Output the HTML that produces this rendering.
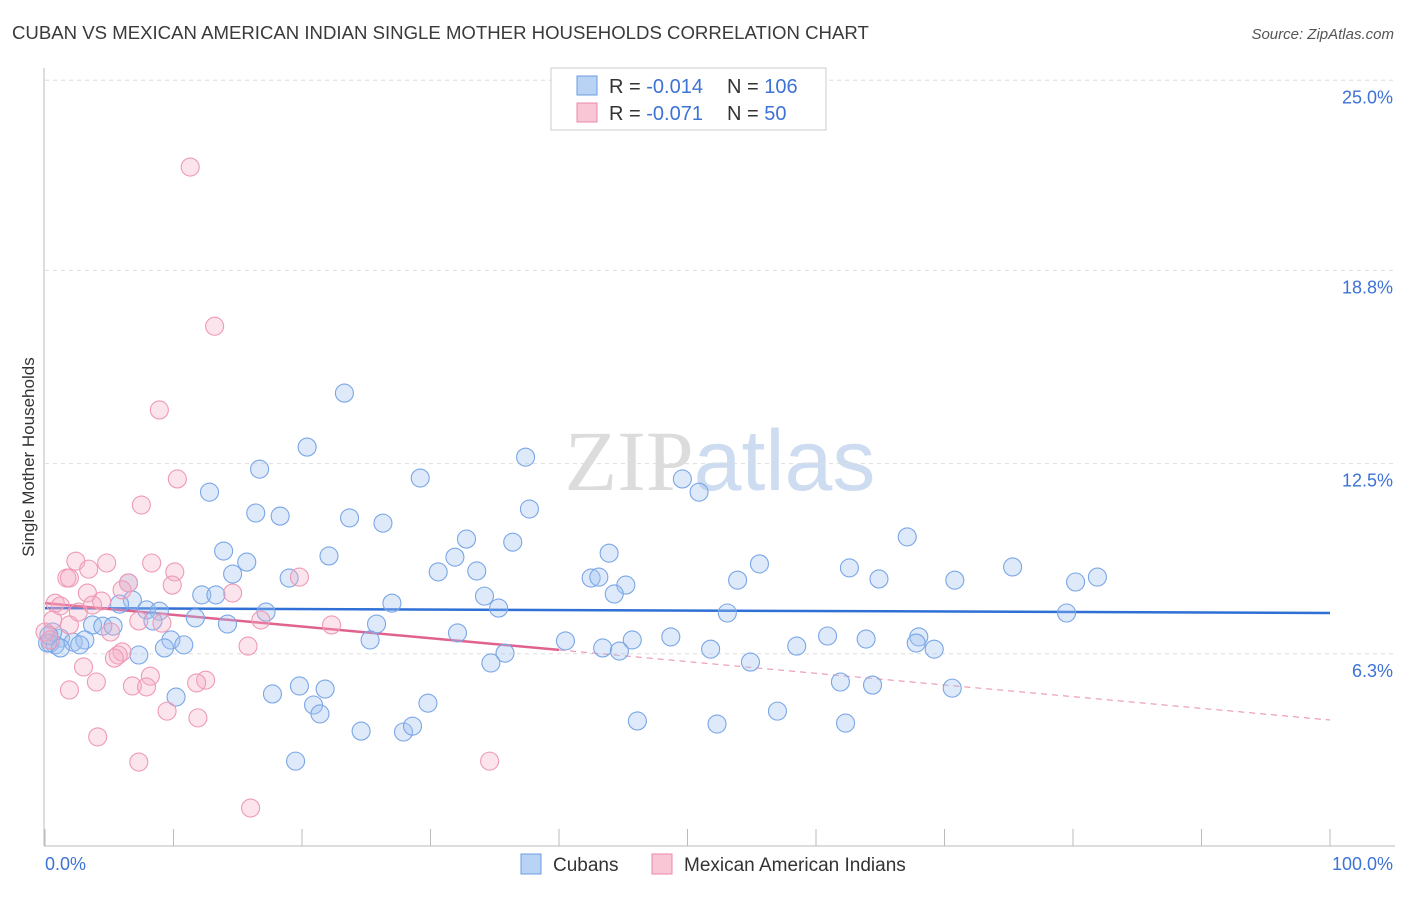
<!DOCTYPE html>
<html><head><meta charset="utf-8"><style>
body{margin:0;background:#fff;font-family:"Liberation Sans",sans-serif}
svg text{font-family:"Liberation Sans",sans-serif}
</style></head><body>
<svg id="chart" width="1406" height="892" xmlns="http://www.w3.org/2000/svg">
<text x="12" y="39" font-size="18.6" fill="#3a3a3a">CUBAN VS MEXICAN AMERICAN INDIAN SINGLE MOTHER HOUSEHOLDS CORRELATION CHART</text>
<text x="1394" y="39" font-size="15" fill="#555" text-anchor="end" font-style="italic">Source: ZipAtlas.com</text>
<text x="720" y="490" font-size="86" text-anchor="middle"><tspan fill="#dcdcdc" font-family="Liberation Serif,serif">ZIP</tspan><tspan fill="#cddcf0">atlas</tspan></text>
<g id="grid"></g><g id="axes"></g><g id="trend"></g><g id="pts"></g>
<text transform="translate(34,457) rotate(-90)" font-size="17" fill="#333" text-anchor="middle">Single Mother Households</text>
<g>
<rect x="551" y="68" width="275" height="62" fill="#fff" stroke="#ccc"/>
<rect x="577" y="76" width="20" height="19" fill="#b9d3f5" stroke="#6a9be0"/>
<rect x="577" y="103" width="20" height="19" fill="#f9c6d6" stroke="#e98aa8"/>
<text x="609" y="93" font-size="20" fill="#333">R = <tspan fill="#3d72d6">-0.014</tspan><tspan x="727">N = </tspan><tspan fill="#3d72d6">106</tspan></text>
<text x="609" y="120" font-size="20" fill="#333">R = <tspan fill="#3d72d6">-0.071</tspan><tspan x="727">N = </tspan><tspan fill="#3d72d6">  50</tspan></text>
</g>
<g>
<rect x="521" y="854" width="20" height="20" fill="#b9d3f5" stroke="#6a9be0"/>
<text x="553" y="871" font-size="19" fill="#333">Cubans</text>
<rect x="652" y="854" width="20" height="20" fill="#f9c6d6" stroke="#e98aa8"/>
<text x="684" y="871" font-size="19" fill="#333">Mexican American Indians</text>
</g>
</svg>
<script>
const yTicks=[25.0,18.8,12.5,6.3];
const yTickLabels=["25.0%","18.8%","12.5%","6.3%"];
const xTickLabels=["0.0%","100.0%"];
const cubanX=[23.3,20.4,37.4,16.7,29.2,49.6,50.9,12.8,16.4,18.3,23.7,26.3,37.7,67.1,32.8,36.4,13.9,22.1,43.9,31.9,15.7,55.6,75.3,62.6,30.6,14.6,33.6,19.0,42.5,43.1,53.9,64.9,70.8,81.9,80.2,6.5,45.2,34.2,12.2,13.3,6.8,5.8,44.3,27.0,7.9,8.9,35.3,17.2,79.5,53.1,11.7,14.2,25.8,8.4,3.7,4.5,5.3,1.2,2.2,0.4,0.8,3.1,2.7,9.8,10.8,9.3,32.1,25.3,40.5,45.7,48.7,60.9,63.9,68.0,67.8,43.4,44.7,51.8,58.5,69.2,35.8,7.3,34.7,54.9,61.9,64.4,70.6,19.8,21.8,17.7,10.2,29.8,20.9,21.4,46.1,52.3,57.0,62.3,24.6,27.9,28.6,19.5,0.2,0.6,1.2,0.3];
const cubanY=[14.8,13.04,12.71,12.32,12.03,12.0,11.57,11.57,10.89,10.79,10.73,10.56,11.02,10.11,10.04,9.94,9.65,9.49,9.58,9.45,9.29,9.23,9.13,9.10,8.97,8.90,9.0,8.77,8.77,8.80,8.70,8.74,8.70,8.80,8.64,8.61,8.54,8.18,8.22,8.22,8.05,7.92,8.25,7.95,7.73,7.69,7.79,7.66,7.63,7.63,7.47,7.27,7.27,7.37,7.24,7.20,7.20,6.81,6.68,6.65,6.59,6.75,6.59,6.75,6.59,6.49,6.98,6.75,6.72,6.75,6.85,6.88,6.78,6.85,6.65,6.49,6.39,6.45,6.55,6.45,6.32,6.26,6.0,6.03,5.38,5.28,5.18,5.25,5.15,4.99,4.89,4.69,4.63,4.34,4.11,4.01,4.43,4.04,3.78,3.75,3.94,2.80,6.65,7.01,6.49,6.9];
const mexX=[11.3,13.2,8.9,10.3,7.5,2.4,4.8,8.3,3.4,10.1,19.8,1.7,1.9,6.5,9.9,14.6,3.3,4.4,0.8,1.2,2.6,3.7,6.0,9.1,7.3,22.3,0.6,0.0,0.4,1.9,5.1,16.8,15.8,6.0,5.7,5.4,3.0,8.2,4.0,6.8,7.9,12.5,11.8,9.5,11.9,4.1,7.3,34.6,16.0,1.9];
const mexY=[22.17,16.98,14.25,12.0,11.15,9.32,9.26,9.26,9.06,8.97,8.80,8.77,8.77,8.61,8.54,8.28,8.28,8.02,7.95,7.86,7.66,7.89,8.38,7.30,7.37,7.24,7.40,7.01,6.75,7.24,7.01,7.40,6.55,6.36,6.26,6.16,5.87,5.57,5.38,5.25,5.22,5.44,5.35,4.43,4.21,3.59,2.77,2.80,1.27,5.12];
const cubanTrend=[7.79,7.63];
const mexTrend=[7.95,4.14];
const mexSolidEnd=40;
const NS="http://www.w3.org/2000/svg";
const X=v=>45+v*12.85, Y=v=>847-v*30.67;
function mk(p,t,a){const e=document.createElementNS(NS,t);for(const k in a)e.setAttribute(k,a[k]);document.getElementById(p).appendChild(e);return e;}
yTicks.forEach((t,i)=>{
 const l=mk('grid','line',{x1:45,x2:1395,y1:Y(t),y2:Y(t),stroke:'#ddd','stroke-dasharray':'4,4'});
 
 
 const tx=mk('grid','text',{x:1393,y:Y(t)+23,'font-size':18,fill:'#3d72d6','text-anchor':'end'});
 tx.textContent=yTickLabels[i];
 
 
});
mk('axes','line',{x1:44,x2:44,y1:68,y2:846,stroke:'#bbb'});
mk('axes','line',{x1:44,x2:1395,y1:846,y2:846,stroke:'#bbb'});
for(let i=0;i<=10;i++){mk('axes','line',{x1:X(i*10),x2:X(i*10),y1:829,y2:846,stroke:'#bbb'});}
[[0,'start',45],[100,'end',1393]].forEach((d,i)=>{const t=mk('axes','text',{x:d[2],y:870,'font-size':18,fill:'#3d72d6','text-anchor':d[1]});t.textContent=xTickLabels[i];
 
 });
const ln=(a,b,v1,v2,c,w,dash)=>{const e=mk('trend','line',{x1:X(a),x2:X(b),y1:Y(v1),y2:Y(v2),stroke:c,'stroke-width':w});if(dash)e.setAttribute('stroke-dasharray',dash);return e;};
const mv=x=>mexTrend[0]+(mexTrend[1]-mexTrend[0])*x/100;
cubanX.forEach((x,i)=>{const c=mk('pts','circle',{cx:X(x),cy:Y(cubanY[i]),r:9,fill:'rgba(160,195,240,0.35)',stroke:'#7aa6e6','stroke-width':1.1});
 
 });
mexX.forEach((x,i)=>{const c=mk('pts','circle',{cx:X(x),cy:Y(mexY[i]),r:9,fill:'rgba(245,170,196,0.32)',stroke:'#ee9ab5','stroke-width':1.1});
 
 });
const t1=ln(0,100,cubanTrend[0],cubanTrend[1],'#2f6fd6',2.5);


const t2=ln(0,mexSolidEnd,mv(0),mv(mexSolidEnd),'#e0628e',2.5);


const t3=ln(mexSolidEnd,100,mv(mexSolidEnd),mv(100),'#e98aa8',1,'6,5');


</script>
</body></html>
